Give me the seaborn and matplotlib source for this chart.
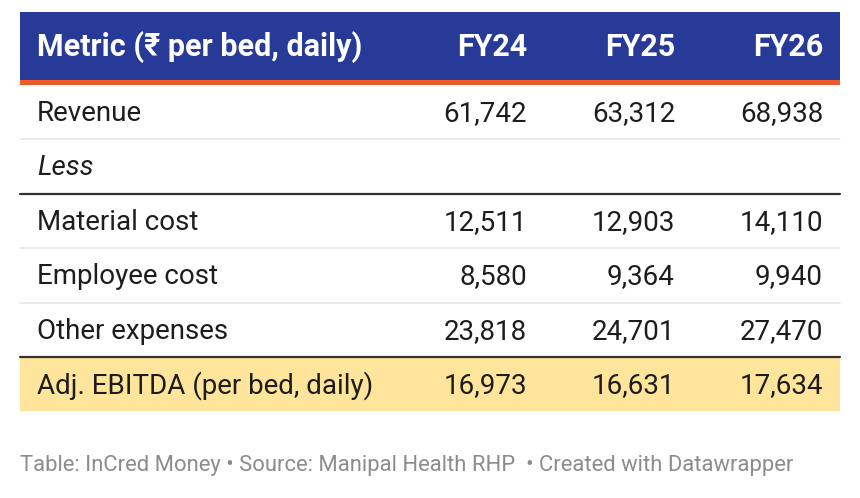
import matplotlib.pyplot as plt
import seaborn as sns

# table content
metrics = ['Revenue', 'Less', 'Material cost', 'Employee cost', 'Other expenses',
           'Adj. EBITDA (per bed, daily)']
years = ['FY24', 'FY25', 'FY26']
fy24 = ['61,742', '', '12,511', '8,580', '23,818', '16,973']
fy25 = ['63,312', '', '12,903', '9,364', '24,701', '16,631']
fy26 = ['68,938', '', '14,110', '9,940', '27,470', '17,634']
header = 'Metric (₹ per bed, daily)'
footer = 'Table: InCred Money • Source: Manipal Health RHP  • Created with Datawrapper'

sns.set_theme(style='white')
plt.rcParams['font.family'] = ['Roboto', 'DejaVu Sans']

fig = plt.figure(figsize=(8.6, 4.98), dpi=100)
ax = fig.add_axes([0, 0, 1, 1])
ax.set_xlim(0, 860)
ax.set_ylim(498, 0)
ax.axis('off')

left, right = 20, 840
col_right = [527, 675, 823]

# header
ax.fill_between([left, right], 12, 80, color='#283a97', lw=0)
ax.fill_between([left, right], 80, 85, color='#ef5a2b', lw=0)
ax.text(37, 47, header, color='white', fontsize=22, fontweight='bold', va='center')
for x, y in zip(col_right, years):
    ax.text(x, 47, y, color='white', fontsize=22, fontweight='bold', va='center', ha='right')

top = 85
row_h = 54.4
for i, m in enumerate(metrics):
    y0 = top + i * row_h
    yc = y0 + row_h / 2 + 1.5
    if i == len(metrics) - 1:
        ax.fill_between([left, right], y0, y0 + row_h, color='#fee59b', lw=0)
    style = 'italic' if m == 'Less' else 'normal'
    ax.text(37, yc, m, fontsize=20, color='#1d1d1d', va='center', style=style)
    for x, v in zip(col_right, [fy24[i], fy25[i], fy26[i]]):
        ax.text(x, yc, v, fontsize=20, color='#1d1d1d', va='center', ha='right')
    # separator below row
    if i < len(metrics) - 1:
        yb = y0 + row_h
        if metrics[i] in ('Less', 'Other expenses'):
            ax.plot([left, right], [yb, yb], color='#333333', lw=1.6)
        else:
            ax.plot([left, right], [yb, yb], color='#e8e8e8', lw=1.2)

ax.text(20, 465, footer, fontsize=15.8, color='#8c8c8c', va='center')

fig.savefig('out.png', dpi=100)
